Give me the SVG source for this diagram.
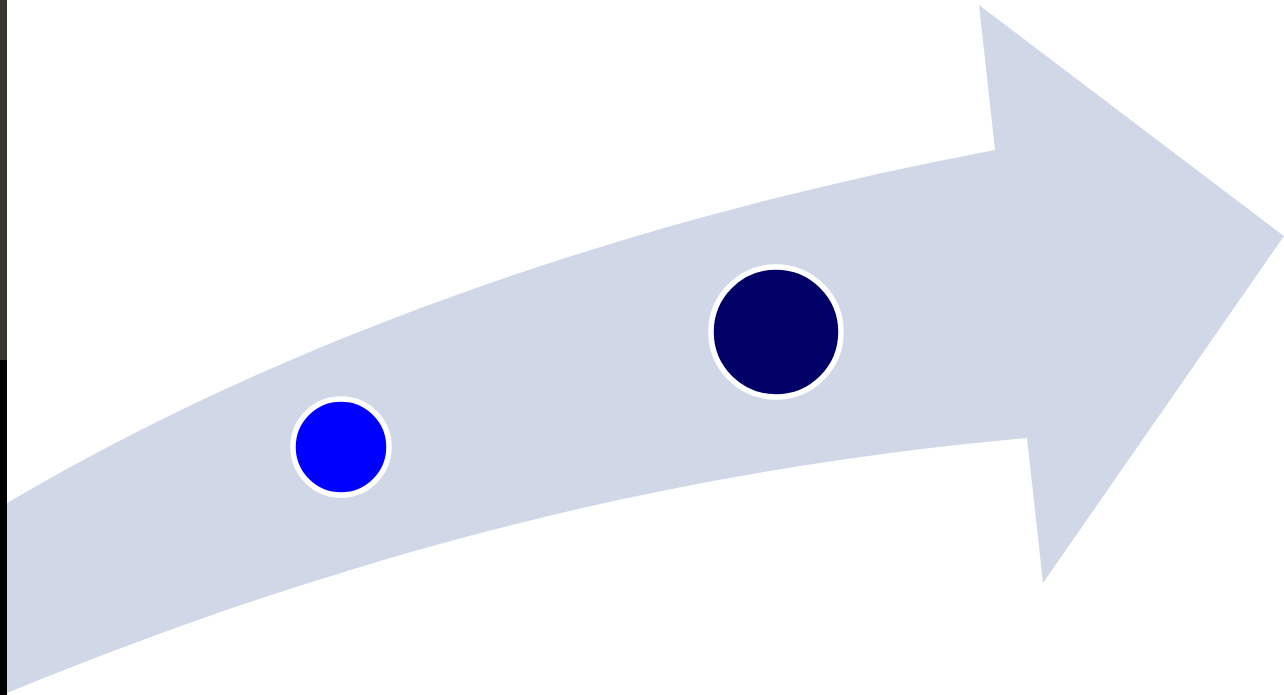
<svg xmlns="http://www.w3.org/2000/svg" width="1284" height="695" viewBox="0 0 1284 695">
<defs>
<style>
.node-ring{stroke:#ffffff;}
</style>
</defs>
<rect width="1284" height="695" fill="#ffffff"/>
<g id="edge-strip">
<rect x="0" y="0" width="7" height="360" fill="#3b3631"/>
<rect x="0" y="360" width="7" height="335" fill="#000000"/>
</g>
<g id="arrow">
<path d="M7,503 C300,330 650,215 995,150 L979,5 L1284,236 L1043,583 L1027,438 C700,468 380,540 7,693 Z" fill="#d0d8e7"/>
</g>
<g id="node-1">
<circle cx="341" cy="447" r="48" fill="#0000ff" class="node-ring" stroke-width="5.5"/>
</g>
<g id="node-2">
<circle cx="776" cy="332" r="65" fill="#000066" class="node-ring" stroke-width="5.5"/>
</g>
</svg>
